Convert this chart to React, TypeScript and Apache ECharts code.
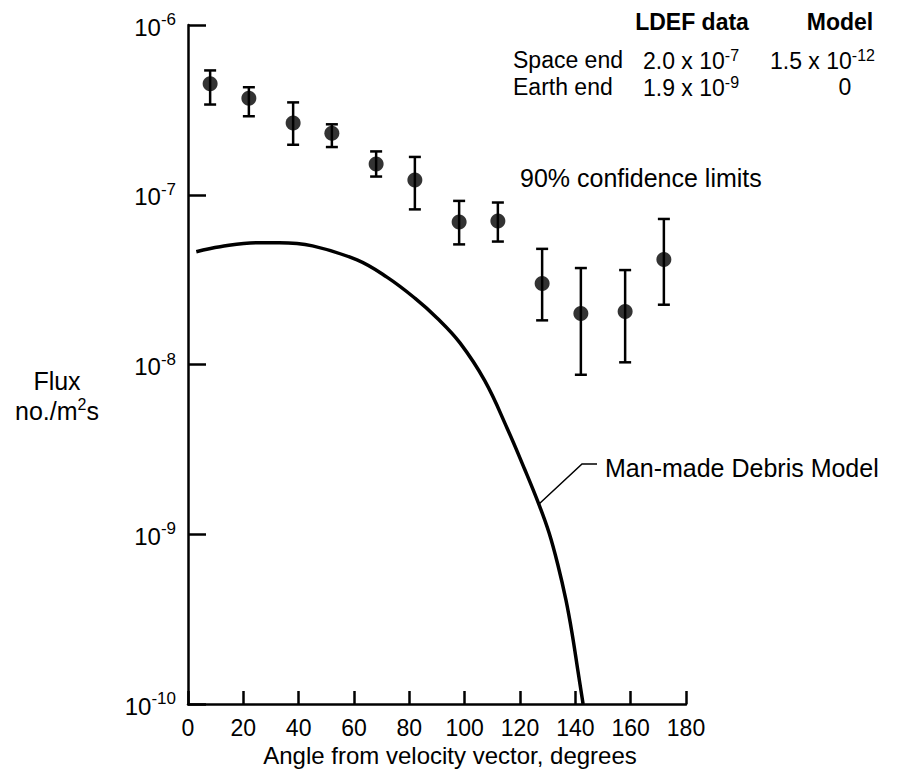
import React, { useEffect, useRef } from "react";
import * as echarts from "echarts";

// LDEF measured data (angle from velocity vector, degrees)
const angles = [8, 22, 38, 52, 68, 82, 98, 112, 128, 142, 158, 172];
const flux = [4.5e-7, 3.7e-7, 2.65e-7, 2.3e-7, 1.52e-7, 1.22e-7, 6.9e-8, 7.0e-8, 3.0e-8, 2.0e-8, 2.05e-8, 4.15e-8];
const fluxUpper = [5.4e-7, 4.3e-7, 3.5e-7, 2.6e-7, 1.8e-7, 1.67e-7, 9.2e-8, 9.0e-8, 4.8e-8, 3.7e-8, 3.6e-8, 7.2e-8];
const fluxLower = [3.4e-7, 2.9e-7, 1.97e-7, 1.91e-7, 1.28e-7, 8.2e-8, 5.1e-8, 5.3e-8, 1.82e-8, 8.7e-9, 1.03e-8, 2.25e-8];

// Man-made debris model curve
const modelAngles = [3, 11.6, 25, 33, 45, 61.1, 71.9, 82, 90, 98.3, 107.3, 115.3, 121.8, 126.9, 130.5, 133.7, 136.6, 138.8, 140.9, 142.8];
const modelFlux = [
  4.62e-8, 4.94e-8, 5.22e-8, 5.22e-8, 5.0e-8, 4.13e-8, 3.27e-8, 2.46e-8, 1.88e-8, 1.34e-8,
  8.0e-9, 4.23e-9, 2.39e-9, 1.49e-9, 1.02e-9, 6.59e-10, 4.1e-10, 2.62e-10, 1.58e-10, 1.0e-10,
];

const FONT = "'Liberation Sans', Arial, Helvetica, sans-serif";

export default function App() {
  const ref = useRef<HTMLDivElement>(null);
  useEffect(() => {
    if (!ref.current) return;
    const chart = echarts.init(ref.current, null, { renderer: "svg" });
    const mk = (size: number, supSize: number, lh: number) => ({
      b: { fontFamily: FONT, fontSize: size, color: "#000", lineHeight: lh, verticalAlign: "bottom" },
      s: { fontFamily: FONT, fontSize: supSize, color: "#000", lineHeight: lh, verticalAlign: "top" },
    });
    const txt = (x: number, y: number, text: string, opts: any = {}) => {
      const size = opts.size || 24;
      return {
        type: "text",
        x,
        y,
        style: {
          text,
          fill: "#000",
          font: `${opts.bold ? "bold " : ""}${size}px ${FONT}`,
          fontFamily: FONT,
          fontSize: size,
          fontWeight: opts.bold ? "bold" : "normal",
          align: opts.align || "left",
          textAlign: opts.align || "left",
          verticalAlign: "middle",
          textVerticalAlign: "middle",
          rich: mk(size, 16, size + 2),
        },
      };
    };
    chart.setOption({
      animation: false,
      backgroundColor: "#fff",
      grid: { left: 188, right: 231, top: 25, bottom: 69 },
      xAxis: {
        type: "value",
        min: 0,
        max: 180,
        interval: 20,
        name: "Angle from velocity vector, degrees",
        nameLocation: "middle",
        nameGap: 36,
        nameTextStyle: { fontFamily: FONT, fontSize: 24, color: "#000", padding: [0, 0, 0, 26] },
        axisLine: { lineStyle: { color: "#000", width: 2.5 } },
        axisTick: { inside: true, length: 13, lineStyle: { color: "#000", width: 2.5 } },
        axisLabel: { fontFamily: FONT, fontSize: 23, color: "#000", margin: 12 },
        splitLine: { show: false },
      },
      yAxis: {
        type: "log",
        logBase: 10,
        min: 1e-10,
        max: 1e-6,
        axisLine: { lineStyle: { color: "#000", width: 2.5 } },
        axisTick: { inside: true, length: 18, lineStyle: { color: "#000", width: 2.5 } },
        minorTick: { show: false },
        splitLine: { show: false },
        axisLabel: {
          margin: 12,
          formatter: (v: number) => `{b|10}{s|${Math.round(Math.log10(v))}}`,
          rich: {
            b: { fontFamily: FONT, fontSize: 24, color: "#000", lineHeight: 28, verticalAlign: "bottom" },
            s: { fontFamily: FONT, fontSize: 17, color: "#000", lineHeight: 28, verticalAlign: "top" },
          },
        },
      },
      series: [
        {
          type: "line",
          name: "Man-made Debris Model",
          data: modelAngles.map((a, i) => [a, modelFlux[i]]),
          showSymbol: false,
          smooth: 0.4,
          lineStyle: { color: "#000", width: 3.5 },
          z: 3,
        },
        {
          type: "custom",
          name: "90% confidence limits",
          data: angles.map((a, i) => [a, fluxLower[i], fluxUpper[i]]),
          encode: { x: 0, y: [1, 2] },
          renderItem: (params: any, api: any) => {
            const x = api.value(0);
            const lo = api.coord([x, api.value(1)]);
            const hi = api.coord([x, api.value(2)]);
            const w = 6;
            const st = { stroke: "#000", lineWidth: 2.5 };
            return {
              type: "group",
              children: [
                { type: "line", shape: { x1: lo[0], y1: lo[1], x2: hi[0], y2: hi[1] }, style: st },
                { type: "line", shape: { x1: lo[0] - w, y1: lo[1], x2: lo[0] + w, y2: lo[1] }, style: st },
                { type: "line", shape: { x1: hi[0] - w, y1: hi[1], x2: hi[0] + w, y2: hi[1] }, style: st },
              ],
            };
          },
          z: 4,
        },
        {
          type: "scatter",
          name: "LDEF data",
          data: angles.map((a, i) => [a, flux[i]]),
          symbol: "circle",
          symbolSize: 15,
          itemStyle: { color: "#000" },
          z: 5,
        },
      ],
      graphic: [
        txt(692, 22, "LDEF data", { bold: true, align: "center", size: 23 }),
        txt(840, 22, "Model", { bold: true, align: "center", size: 23 }),
        txt(513, 60, "Space end", { size: 23 }),
        txt(643, 60, "{b|2.0 x 10}{s|-7}", { size: 23 }),
        txt(770, 60, "{b|1.5 x 10}{s|-12}", { size: 23 }),
        txt(513, 87, "Earth end", { size: 23 }),
        txt(643, 87, "{b|1.9 x 10}{s|-9}", { size: 23 }),
        txt(845, 87, "0", { align: "center", size: 23 }),
        txt(520, 178, "90% confidence limits", { size: 25 }),
        txt(605, 468, "Man-made Debris Model", { size: 25 }),
        txt(57, 381, "Flux", { align: "center", size: 25 }),
        txt(57, 410, "{b|no./m}{s|2}{b|s}", { align: "center", size: 25 }),
        {
          type: "polyline",
          shape: { points: [[539, 504], [582, 464], [597, 464]] },
          style: { stroke: "#000", lineWidth: 1.5, fill: "none" },
        },
      ],
    });
    return () => chart.dispose();
  }, []);
  return (
    <div
      ref={ref}
      style={{ position: "fixed", left: 0, top: 0, width: 917, height: 773, background: "#fff" }}
    />
  );
}
